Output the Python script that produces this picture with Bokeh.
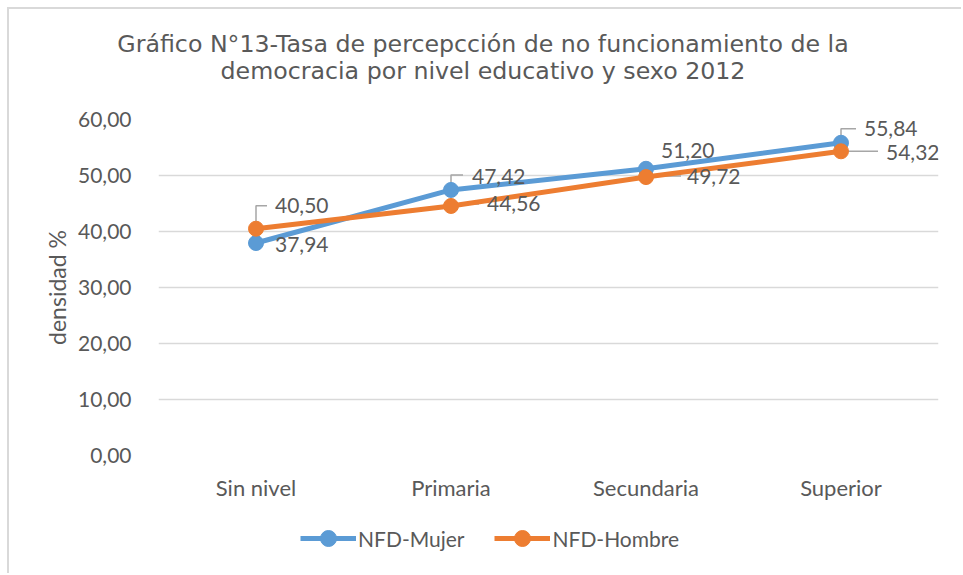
import html
from bokeh.plotting import figure
from bokeh.layouts import column
from bokeh.models import Div, FixedTicker, Range1d, Legend, LegendItem, ColumnDataSource
from bokeh.embed import file_html
from bokeh.resources import INLINE

# ---- data ----
categories = ["Sin nivel", "Primaria", "Secundaria", "Superior"]
mujer = [37.94, 47.42, 51.20, 55.84]
hombre = [40.50, 44.56, 49.72, 54.32]
y_ticks = [0, 10, 20, 30, 40, 50, 60]
series_names = ["NFD-Mujer", "NFD-Hombre"]
title_lines = ["Gráfico N°13-Tasa de percepcción de no funcionamiento de la",
               "democracia por nivel educativo y sexo 2012"]

# ---- layout / style ----
W = 954
H_TOP, H_MAIN, H_LEG = 97, 405, 64
BL, BR, BT, BB = 149, 25, 15, 54
FW, FH = W - BL - BR, H_MAIN - BT - BB
PX_X = FW / len(categories)
PX_Y = FH / (y_ticks[-1] - y_ticks[0])

BLUE = "#5B9BD5"
ORANGE = "#ED7D31"
GRAY_TXT = "#595959"
GRID = "#D9D9D9"
LEADER = "#A6A6A6"
FRAME = "2px solid #D9D9D9"
FONT = "Lato"

xs = [i + 0.5 for i in range(len(categories))]

# ---- title block ----
title_html = (
    "<div style=\"font-family:'DejaVu Sans';font-size:23.7px;color:%s;"
    "line-height:27px;text-align:center;width:948px;padding-top:22px;\">%s</div>"
    % (GRAY_TXT, "<br>".join(html.escape(t) for t in title_lines))
)
p_top = Div(text=title_html, width=W, height=H_TOP, margin=(7, 0, 0, 7),
            styles={"border-top": FRAME, "border-left": FRAME,
                    "background-color": "white", "box-sizing": "border-box"})

# ---- main chart ----
p = figure(width=W, height=H_MAIN, output_backend="svg", toolbar_location=None,
           x_range=Range1d(0, len(categories)), y_range=Range1d(y_ticks[0], y_ticks[-1]),
           min_border_left=BL, min_border_right=BR, min_border_top=BT, min_border_bottom=BB)
p.margin = (0, 0, 0, 7)
p.styles = {"border-left": FRAME}
p.outline_line_color = None
p.background_fill_color = "white"
p.border_fill_color = "white"

p.xgrid.visible = False
p.ygrid.grid_line_color = GRID
p.ygrid.grid_line_width = 1.5
p.yaxis.ticker = FixedTicker(ticks=y_ticks)
p.yaxis.major_label_overrides = {t: f"{t:.2f}".replace(".", ",") for t in y_ticks}
p.xaxis.ticker = FixedTicker(ticks=xs)
p.xaxis.major_label_overrides = {x: c for x, c in zip(xs, categories)}
for ax in (p.xaxis, p.yaxis):
    ax.axis_line_color = None
    ax.major_tick_line_color = None
    ax.minor_tick_line_color = None
    ax.major_label_text_font = FONT
    ax.major_label_text_color = GRAY_TXT
p.yaxis.major_label_text_font_size = "21px"
p.xaxis.major_label_text_font_size = "22px"
p.yaxis.major_label_standoff = 21
p.xaxis.major_label_standoff = 12
p.yaxis.axis_label = "densidad %"
p.yaxis.axis_label_text_font = FONT
p.yaxis.axis_label_text_font_size = "23px"
p.yaxis.axis_label_text_font_style = "normal"
p.yaxis.axis_label_text_color = GRAY_TXT
p.yaxis.axis_label_standoff = 4

# ---- data label offsets (px): text dx, text dy(up), leader path ----
lab_m = [(19, -1, None), (21, 13, (15, 12)), (15, 18, None), (23, 14, (14, 15))]
lab_h = [(19, 23, (23, 11)), (36, 2, (2, 28, True)), (41, 1, (1, 35, True)), (45, -1, (0, 37, True))]


def leaders(vals, labs):
    lx, ly = [], []
    for x, v, (_, _, ld) in zip(xs, vals, labs):
        if ld is None:
            continue
        if len(ld) == 3:  # horizontal leader
            up, dx, _ = ld
            lx.append([x, x + dx / PX_X])
            ly.append([v + up / PX_Y, v + up / PX_Y])
        else:
            up, dx = ld
            lx.append([x, x, x + dx / PX_X])
            ly.append([v, v + up / PX_Y, v + up / PX_Y])
    return lx, ly


for vals, labs in ((mujer, lab_m), (hombre, lab_h)):
    lx, ly = leaders(vals, labs)
    p.multi_line(lx, ly, line_color=LEADER, line_width=1.5)

for vals, col in ((mujer, BLUE), (hombre, ORANGE)):
    p.line(xs, vals, line_color=col, line_width=5)
    p.scatter(xs, vals, size=15, fill_color=col, line_color=col)

for vals, labs in ((mujer, lab_m), (hombre, lab_h)):
    src = ColumnDataSource(dict(x=xs, y=vals,
                                t=[f"{v:.2f}".replace(".", ",") for v in vals],
                                dx=[l[0] for l in labs], dy=[-l[1] for l in labs]))
    p.text("x", "y", text="t", source=src, x_offset="dx", y_offset="dy",
           text_font={"value": FONT}, text_font_size="21px", text_color=GRAY_TXT,
           text_baseline="middle", text_align="left")

# ---- legend block: same series renderers, kept out of this panel's view ----
p_leg = figure(width=W, height=H_LEG, output_backend="svg", toolbar_location=None,
               x_axis_type=None, y_axis_type=None, min_border=0,
               x_range=Range1d(0, 1), y_range=Range1d(0, 1))
p_leg.outline_line_color = None
p_leg.xgrid.visible = False
p_leg.ygrid.visible = False
p_leg.border_fill_color = "white"
p_leg.margin = (0, 0, 0, 7)
p_leg.styles = {"border-left": FRAME}
items = []
for name, vals, col in zip(series_names, (mujer, hombre), (BLUE, ORANGE)):
    rl = p_leg.line(xs, vals, line_color=col, line_width=5)
    rs = p_leg.scatter(xs, vals, size=15, fill_color=col, line_color=col)
    items.append(LegendItem(label=name, renderers=[rl, rs]))
legend = Legend(items=items, orientation="horizontal", location=(142, 15),
                glyph_width=56, glyph_height=40, label_text_font=FONT,
                label_text_font_size="21px", label_text_color=GRAY_TXT,
                label_standoff=2, spacing=30, border_line_color=None,
                background_fill_alpha=0, padding=0, margin=0)
p_leg.add_layout(legend, "center")

layout = column(p_top, p, p_leg, spacing=0)
open("out.html", "w").write(file_html(layout, INLINE))
